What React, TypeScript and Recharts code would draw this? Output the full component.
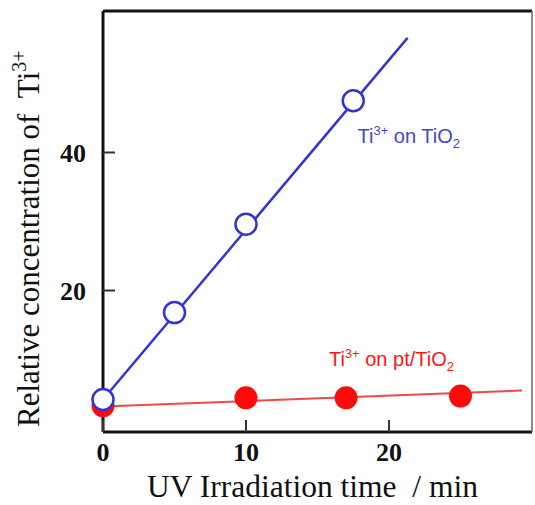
import React from 'react';
import { ScatterChart, Scatter, XAxis, YAxis, ReferenceDot } from 'recharts';

// Measured points
const blueTime = [0, 5, 10, 17.5];
const blueValues = [4.2, 16.8, 29.6, 47.5];
const redTime = [0, 10, 17, 25];
const redValues = [3.3, 4.45, 4.45, 4.7];

// Fitted lines (end points)
const blueFitTime = [0, 21.3];
const blueFitValues = [4.2, 56.6];
const redFitTime = [0, 29.3];
const redFitValues = [3.2, 5.5];

const xTicks = [0, 10, 20];
const yTicks = [20, 40];

// Annotation anchor positions (data coords)
const blueLabelPos = { x: 17.8, y: 41.4 };
const redLabelPos = { x: 15.8, y: 9.1 };

const toPts = (xs: number[], ys: number[]) => xs.map((x, i) => ({ x, y: ys[i] }));

const bluePts = toPts(blueTime, blueValues);
const redPts = toPts(redTime, redValues);
const blueFit = toPts(blueFitTime, blueFitValues);
const redFit = toPts(redFitTime, redFitValues);

const SERIF = '"Liberation Serif", "DejaVu Serif", serif';
const SANS = '"Liberation Sans", Arial, sans-serif';

const BLUE = '#3434d4';
const RED = '#ff0a0a';

const YTick = (props: any) => {
  const { x, y, payload } = props;
  return (
    <g>
      <line x1={x} x2={x + 12} y1={y} y2={y} stroke="#333" strokeWidth={2} />
      <text x={x - 17} y={y} dy="0.35em" textAnchor="end" fontFamily={SERIF} fontWeight="bold" fontSize={26} fill="#111">
        {payload.value}
      </text>
    </g>
  );
};

const XTick = (props: any) => {
  const { x, y, payload } = props;
  return (
    <g>
      <line x1={x} x2={x} y1={y} y2={y - 12} stroke="#333" strokeWidth={2} />
      <text x={x} y={y + 29} textAnchor="middle" fontFamily={SERIF} fontWeight="bold" fontSize={26} fill="#111">
        {payload.value}
      </text>
    </g>
  );
};

const YLabel = (props: any) => {
  const vb = props.viewBox || { x: 0, y: 11, width: 103, height: 421 };
  const cx = vb.x + 39;
  const cy = vb.y + vb.height - 5;
  return (
    <text
      x={cx}
      y={cy}
      transform={`rotate(-90 ${cx} ${cy})`}
      textAnchor="start"
      fontFamily={SERIF}
      fontSize={31}
      fill="#111"
    >
      <tspan>{'Relative concentration of\u00a0\u00a0Ti'}</tspan>
      <tspan fontSize={20} dy={-13}>3+</tspan>
    </text>
  );
};

const XLabel = (props: any) => {
  const vb = props.viewBox || { x: 103, y: 432, width: 429, height: 73 };
  return (
    <text
      x={vb.x + vb.width / 2 - 5}
      y={vb.y + 65}
      textAnchor="middle"
      fontFamily={SERIF}
      fontSize={31.5}
      fill="#111"
    >
      {'UV Irradiation time\u00a0\u00a0/ min'}
    </text>
  );
};

const makeAnno = (color: string, mid: string) => (props: any) => {
  const vb = props.viewBox || { x: 0, y: 0 };
  return (
    <text x={vb.x} y={vb.y} fontFamily={SANS} fontSize={20} fill={color}>
      <tspan>Ti</tspan>
      <tspan fontSize={13} dy={-8}>3+</tspan>
      <tspan dy={8}>{mid}</tspan>
      <tspan fontSize={13} dy={5}>2</tspan>
    </text>
  );
};

const OpenCircle = (props: any) => (
  <circle cx={props.cx} cy={props.cy} r={10.5} fill="#fff" stroke={BLUE} strokeWidth={2.5} />
);
const FilledCircle = (props: any) => (
  <circle cx={props.cx} cy={props.cy} r={11.5} fill={RED} stroke="none" />
);
const NoShape = () => <g />;

export default function App() {
  return (
    <div style={{ position: 'absolute', left: 0, top: 0, background: '#fff' }}>
      <ScatterChart width={535} height={505} margin={{ top: 0, right: 0, bottom: 0, left: 0 }}>
        <XAxis
          type="number"
          dataKey="x"
          domain={[0, 30]}
          ticks={xTicks}
          height={73}
          tickSize={0}
          tickMargin={0}
          tick={<XTick />}
          axisLine={{ stroke: '#111', strokeWidth: 3 }}
          label={{ content: <XLabel /> }}
        />
        <XAxis
          xAxisId="top"
          orientation="top"
          type="number"
          domain={[0, 30]}
          height={11}
          tick={false}
          tickLine={false}
          axisLine={{ stroke: '#111', strokeWidth: 3 }}
        />
        <YAxis
          type="number"
          dataKey="y"
          domain={[-0.5, 60.5]}
          ticks={yTicks}
          width={103}
          tickSize={0}
          tickMargin={0}
          tick={<YTick />}
          axisLine={{ stroke: '#111', strokeWidth: 3 }}
          label={{ content: <YLabel /> }}
        />
        <YAxis
          yAxisId="right"
          orientation="right"
          type="number"
          domain={[-0.5, 60.5]}
          width={3}
          tick={false}
          tickLine={false}
          axisLine={{ stroke: '#666', strokeWidth: 1.5 }}
        />
        <Scatter data={redFit} line={{ stroke: '#f04848', strokeWidth: 2 }} shape={<NoShape />} isAnimationActive={false} />
        <Scatter data={blueFit} line={{ stroke: BLUE, strokeWidth: 2.5 }} shape={<NoShape />} isAnimationActive={false} />
        <Scatter data={redPts} shape={<FilledCircle />} isAnimationActive={false} />
        <Scatter data={bluePts} shape={<OpenCircle />} isAnimationActive={false} />
        <ReferenceDot x={blueLabelPos.x} y={blueLabelPos.y} r={0} stroke="none" label={{ content: makeAnno('#4646c8', ' on TiO') }} />
        <ReferenceDot x={redLabelPos.x} y={redLabelPos.y} r={0} stroke="none" label={{ content: makeAnno('#ff1414', ' on pt/TiO') }} />
      </ScatterChart>
    </div>
  );
}
